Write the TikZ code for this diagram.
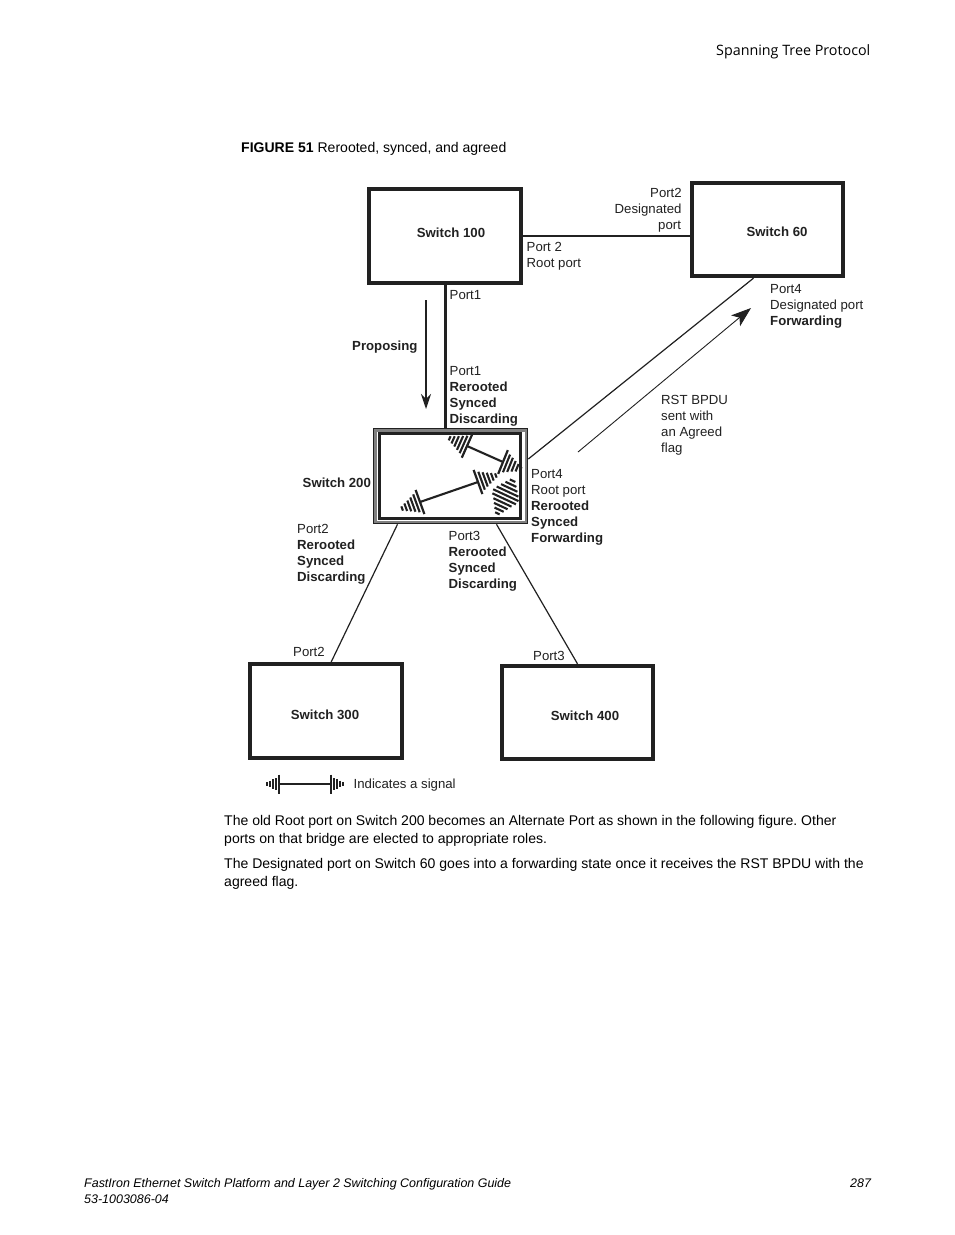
\documentclass[tikz,border=0pt]{standalone}
\usepackage{fontspec}
\setmainfont{Liberation Sans}
\newfontfamily\headfont{Open Sans}
\usetikzlibrary{arrows.meta}
\definecolor{ink}{gray}{0.13}
\frenchspacing
\tikzset{
  x=1pt,y=-1pt,
  swbox/.style={draw=ink,line width=3.8pt,minimum width=151.5pt,minimum height=93.5pt,inner sep=0pt},
  lbl/.style={anchor=north west,inner sep=0pt,align=left,text=ink,font=\fontsize{13.2}{16}\selectfont},
  page/.style={anchor=base west,inner sep=0pt,text=black,font=\fontsize{14.03}{18}\selectfont},
  foot/.style={anchor=base west,inner sep=0pt,text=black,font=\fontsize{12.47}{15}\selectfont\itshape},
  wire/.style={draw=ink,line width=1.2pt},
  thickwire/.style={draw=ink,line width=3pt},
  sigbar/.style={draw=ink,line width=2.1pt},
}
% \sigfan{x}{y}{angle}{scale}: a signal end, bar at origin with fins growing outwards along +x
\newcommand{\sigfan}[4]{%
  \begin{scope}[shift={(#1,#2)},rotate=-#3,scale=#4]
    \draw[sigbar,line width=2.2pt] (0,-13.5) -- (0,13.5);
    \foreach \d/\h in {4/10,8/8,12/6,16/4.2,20/2.4}{\draw[sigbar] (\d,-\h) -- (\d,\h);}
  \end{scope}}
\begin{document}
\begin{tikzpicture}
\useasboundingbox (0,0) rectangle (954,1235);
\fill[white] (0,0) rectangle (954,1235);

% page text
\node[anchor=base west,inner sep=0pt,font=\fontsize{14.3}{17}\selectfont\headfont] (head) at (716,55) {Spanning Tree Protocol};
\node[page] (cap) at (241,152) {\textbf{FIGURE 51} Rerooted, synced, and agreed};
\node[page] (p1) at (224,825) {The old Root port on Switch 200 becomes an Alternate Port as shown in the following figure. Other};
\node[page] (p2) at (224,843) {ports on that bridge are elected to appropriate roles.};
\node[page] (p3) at (224,868) {The Designated port on Switch 60 goes into a forwarding state once it receives the RST BPDU with the};
\node[page] (p4) at (224,886) {agreed flag.};
\node[foot] (f1) at (84,1187) {FastIron Ethernet Switch Platform and Layer 2 Switching Configuration Guide};
\node[foot] (f2) at (84,1203) {53-1003086-04};
\node[foot] (f3) at (850,1187) {287};

% switches
\node[swbox] (s100) at (445,236) {};
\node[swbox] (s60) at (767.5,229.5) {};
\node[swbox] (s300) at (326,711) {};
\node[swbox] (s400) at (577.5,712.5) {};
\node[lbl,anchor=base] (t100) at (451,237) {\bfseries Switch 100};
\node[lbl,anchor=base] (t60) at (777,236) {\bfseries Switch 60};
\node[lbl,anchor=base] (t300) at (325,719) {\bfseries Switch 300};
\node[lbl,anchor=base] (t400) at (585,720) {\bfseries Switch 400};

% switch 200 with double frame
\node[draw=ink,line width=2.6pt,minimum width=153pt,minimum height=94pt,inner sep=0pt] (s200) at (450.5,476) {};
\draw[draw=black!50,line width=2.4pt] ([shift={(2.6,2.6)}]s200.north west) rectangle ([shift={(-2.6,-2.6)}]s200.south east);
\draw[draw=ink,line width=3pt] (379.6,433.2) rectangle (520,518);

% links
\draw[wire] (s100.east) -- (s60.west |- s100.east);
\draw[thickwire] (s100.south) -- (s100.south |- s200.north);
\draw[wire] ([yshift=17pt]s200.east) -- ([xshift=-14pt]s60.south);
\draw[wire] ([xshift=-53pt]s200.south) -- ([xshift=5pt]s300.north);
\draw[wire] ([xshift=46pt]s200.south) -- ([xshift=0pt]s400.north);

% arrows
\coordinate (propA) at (426,300);
\coordinate (propB) at (426,409);
\draw[wire,line width=1.2pt,-{Stealth[length=15pt,width=10pt]}] (propA) -- (propB);
\coordinate (rstA) at (578,452);
\coordinate (rstB) at (751,308);
\draw[wire,line width=0.9pt,-{Stealth[length=20pt,width=14pt,inset=5pt]}] (rstA) -- (rstB);

% labels
\node[lbl] (l1) at (614.5,188) {\hspace{35.5pt}Port2\\Designated\\\hspace{43.5pt}port};
\node[lbl] (l2) at (526.5,242) {Port 2\\Root port};
\node[lbl] (l3) at (449.5,290) {Port1};
\node[lbl,font=\fontsize{13.2}{16}\selectfont\bfseries] (l4) at (352,340.5) {Proposing};
\node[lbl] (l5) at (449.5,366) {Port1\\\textbf{Rerooted}\\\textbf{Synced}\\\textbf{Discarding}};
\node[lbl] (l6) at (770,284) {Port4\\Designated port\\\textbf{Forwarding}};
\node[lbl] (l7) at (661,395) {RST BPDU\\sent with\\an Agreed\\flag};
\node[lbl,font=\fontsize{13.2}{16}\selectfont\bfseries] (l8) at (302.5,478) {Switch 200};
\node[lbl] (l9) at (531,469) {Port4\\Root port\\\textbf{Rerooted}\\\textbf{Synced}\\\textbf{Forwarding}};
\node[lbl] (l10) at (297,524.5) {Port2\\\textbf{Rerooted}\\\textbf{Synced}\\\textbf{Discarding}};
\node[lbl] (l11) at (448.5,531) {Port3\\\textbf{Rerooted}\\\textbf{Synced}\\\textbf{Discarding}};
\node[lbl] (l12) at (293,647.5) {Port2};
\node[lbl] (l13) at (533,651) {Port3};
\node[lbl] (l14) at (353.5,779) {Indicates a signal};

% signals inside switch 200
\coordinate (sa) at (467,446);
\coordinate (sb) at (503,462);
\coordinate (sc) at (420,502);
\coordinate (sd) at (478,482);
\draw[sigbar] (sa) -- (sb);
\draw[sigbar] (sc) -- (sd);
\sigfan{467}{446}{204}{0.95}
\sigfan{503}{462}{22}{0.95}
\sigfan{420}{502}{160}{0.95}
\sigfan{478}{482}{-20}{0.95}
% the dense signal (two-sided fan)
\begin{scope}[shift={(505,497)},rotate=-25]
  \foreach \d/\h in {-18/3,-14/6,-10/9,-6/12,-2/14,2/13,6/10,10/7.5,14/5,18/2.5}{\draw[sigbar] (-\h,\d) -- (\h,\d);}
\end{scope}

% legend signal
\coordinate (la) at (279,784);
\coordinate (lb) at (331,784);
\draw[draw=ink,line width=1.2pt] (la) -- (lb);
\begin{scope}[shift={(279,784)}]
  \draw[draw=ink,line width=1.4pt] (0,-9.5) -- (0,9.5);
  \foreach \d/\h in {-3/6,-6/5,-9/3.4,-12/2}{\draw[draw=ink,line width=1.4pt] (\d,-\h) -- (\d,\h);}
\end{scope}
\begin{scope}[shift={(331,784)}]
  \draw[draw=ink,line width=1.4pt] (0,-9.5) -- (0,9.5);
  \foreach \d/\h in {3/6,6/5,9/3.4,12/2}{\draw[draw=ink,line width=1.4pt] (\d,-\h) -- (\d,\h);}
\end{scope}
\end{tikzpicture}
\end{document}
